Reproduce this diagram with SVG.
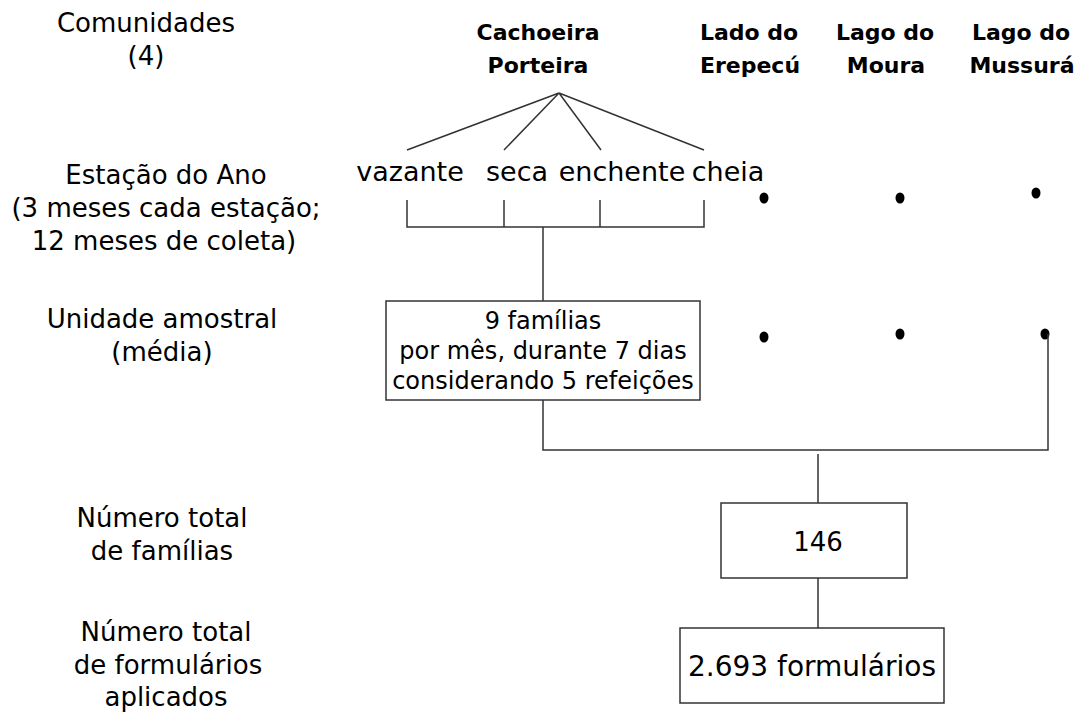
<svg xmlns="http://www.w3.org/2000/svg" width="1085" height="717" viewBox="0 0 1085 717">
<style>
text{font-family:"DejaVu Sans","Liberation Sans",sans-serif;fill:#000;text-anchor:middle}
.lbl{font-size:26px}
.hdr{font-size:22px;font-weight:bold}
.sea{font-size:27px}
.box{font-size:24px}
.ln{stroke:#333;stroke-width:1.5;fill:none}
.rect{fill:#fff;stroke:#333;stroke-width:1.5}
</style>
<rect width="1085" height="717" fill="#fff"/>
<g id="labels">
<text class="lbl" x="146" y="32">Comunidades</text>
<text class="lbl" x="146" y="65">(4)</text>
<text class="lbl" x="166" y="184">Estação do Ano</text>
<text class="lbl" x="166" y="217">(3 meses cada estação;</text>
<text class="lbl" x="164" y="250">12 meses de coleta)</text>
<text class="lbl" x="162" y="328">Unidade amostral</text>
<text class="lbl" x="162" y="361">(média)</text>
<text class="lbl" x="162" y="527">Número total</text>
<text class="lbl" x="162" y="560">de famílias</text>
<text class="lbl" x="166" y="641">Número total</text>
<text class="lbl" x="168" y="674">de formulários</text>
<text class="lbl" x="166" y="706">aplicados</text>
</g>
<g id="communities">
<text class="hdr" x="538" y="40">Cachoeira</text>
<text class="hdr" x="538" y="73">Porteira</text>
<text class="hdr" x="749" y="40">Lado do</text>
<text class="hdr" x="750" y="73">Erepecú</text>
<text class="hdr" x="885" y="40">Lago do</text>
<text class="hdr" x="886" y="73">Moura</text>
<text class="hdr" x="1021" y="40">Lago do</text>
<text class="hdr" x="1022" y="73">Mussurá</text>
</g>
<g id="seasons">
<text class="sea" x="410" y="181">vazante</text>
<text class="sea" x="517" y="181">seca</text>
<text class="sea" x="622" y="181">enchente</text>
<text class="sea" x="728" y="181">cheia</text>
</g>
<g id="dots">
<ellipse cx="764" cy="198" rx="4.5" ry="5.5"/>
<ellipse cx="900" cy="198" rx="4.5" ry="5.5"/>
<ellipse cx="1036" cy="193" rx="4.5" ry="5.5"/>
<ellipse cx="764" cy="337" rx="4.5" ry="5.5"/>
<ellipse cx="900" cy="334" rx="4.5" ry="5.5"/>
<ellipse cx="1045" cy="334" rx="4.5" ry="5.5"/>
</g>
<g id="connectors">
<path class="ln" d="M559 93 L407 150 M559 93 L504 150 M559 93 L601 150 M559 93 L704 150"/>
<path class="ln" d="M407 200 V227 H704 V200 M504 200 V227 M600 200 V227 M543 227 V301"/>
<path class="ln" d="M543 400 V450 H1048 V334"/>
<path class="ln" d="M818 454 V503 M818 578 V628"/>
</g>
<g id="unit-box">
<rect class="rect" x="386" y="301" width="314" height="99"/>
<text class="box" x="543" y="329">9 famílias</text>
<text class="box" x="543" y="359">por mês, durante 7 dias</text>
<text class="box" x="543" y="389">considerando 5 refeições</text>
</g>
<g id="total-families">
<rect class="rect" x="721" y="503" width="186" height="75"/>
<text x="818" y="551" style="font-size:26px">146</text>
</g>
<g id="total-forms">
<rect class="rect" x="680" y="628" width="264" height="75"/>
<text x="812" y="676" style="font-size:28px">2.693 formulários</text>
</g>
</svg>
